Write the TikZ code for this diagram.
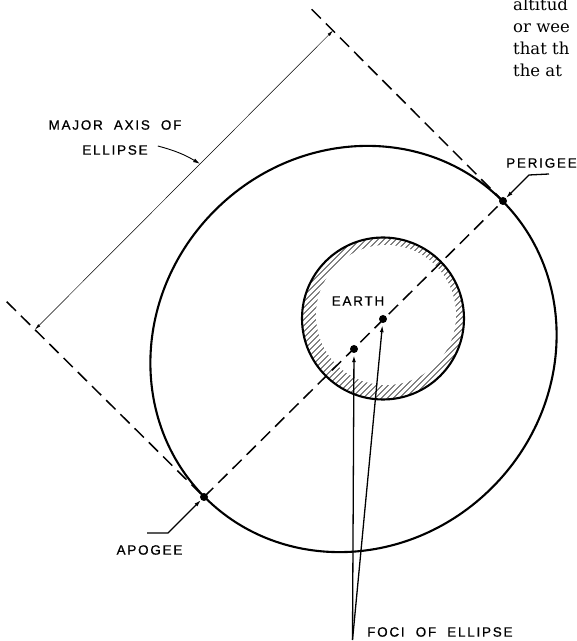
\documentclass[tikz,border=0pt]{standalone}
\usepackage{fontspec}
\newfontfamily\lblfont[LetterSpace=13,FakeBold=0.7]{Liberation Sans}
\newfontfamily\pagefont{DejaVu Serif}
\usetikzlibrary{arrows.meta,calc}

\begin{document}
\begin{tikzpicture}[x=1pt,y=1pt,
   orbit/.style={line width=2.1pt},
   axisline/.style={line width=1.5pt,dash pattern=on 13pt off 7pt},
   dimline/.style={line width=0.5pt},
   leader/.style={line width=1.3pt},
   tip/.style={-{Latex[length=7pt,width=4pt]}},
   dot/.style={circle,fill,inner sep=0pt,minimum size=8pt},
   lbl/.style={font=\lblfont\fontsize{13.5}{13.5}\selectfont,inner sep=0pt},
   bodytext/.style={font=\pagefont\fontsize{16.5}{21}\selectfont,inner sep=0pt,
      anchor=base west}
]
   \useasboundingbox (0,0) rectangle (577,641);

   % orbit
   \draw[orbit,rotate around={45:(353.5,292)}] (353.5,292)
      ellipse [x radius=210,y radius=196];

   % earth with hatched rim
   \begin{scope}
      \clip (383,322.5) circle [radius=81];
      \foreach \k in {-180,-174,...,180}
         \draw[line width=0.45pt] ({383+\k-100},222.5) -- ({383+\k+100},422.5);
   \end{scope}
   \fill[white] (386,326) circle [radius=70];
   \draw[orbit] (383,322.5) circle [radius=81];

   \node[dot] (apogee) at (204,144) {};
   \node[dot] (perigee) at (503,440) {};
   \node[dot] (f1) at (383,322) {};
   \node[dot] (f2) at (354,292) {};

   % axis and extension lines
   \coordinate (e1) at (6.7,339.3);
   \coordinate (e2) at (311.7,631.7);
   \draw[axisline] (apogee.center) -- (perigee.center);
   \draw[axisline] (e1) -- (apogee.center);
   \draw[axisline] (e2) -- (perigee.center);

   \coordinate (d1) at (35,311.5);
   \coordinate (d2) at (333,610.4);
   \draw[dimline,{Latex[length=6pt,width=3pt]}-{Latex[length=6pt,width=3pt]}]
      (d1) -- (d2);

   % labels
   \node[lbl] (major) at (115,516) {MAJOR\ \ AXIS\ \ OF};
   \node[lbl] (ell) at (115,491) {ELLIPSE};
   \draw[dimline,line width=0.9pt,tip] ([shift={(10,4)}]ell.east)
      to[bend left=8] ($(d1)!0.554!(d2)$);

   \node[lbl,anchor=west] (peri) at (506,478) {PERIGEE};
   \coordinate (pk1) at (549,467);
   \coordinate (pk2) at (529,466);
   \draw[leader,tip] (pk1) -- (pk2) -- (perigee);

   \node[lbl] (apo) at (149.5,91) {APOGEE};
   \coordinate (ak1) at (147,108);
   \coordinate (ak2) at (168,108);
   \draw[leader,tip] (ak1) -- (ak2) -- (apogee);

   \node[lbl] (earthlbl) at (358,340) {EARTH};

   \node[lbl,anchor=west] (foci) at (367,9) {FOCI\ \ OF\ \ ELLIPSE};
   \coordinate (fk) at (352.5,1);
   \draw[leader,tip,shorten >=2pt] (fk) -- (f2);
   \draw[leader,tip,shorten >=2pt] (fk) -- (f1);

   % page text cut at the edge
   \foreach \t [count=\i] in {altitud,or wee,that th,the at}
      \node[bodytext] (txt\i) at (513,{652-22*\i}) {\t};
\end{tikzpicture}
\end{document}
